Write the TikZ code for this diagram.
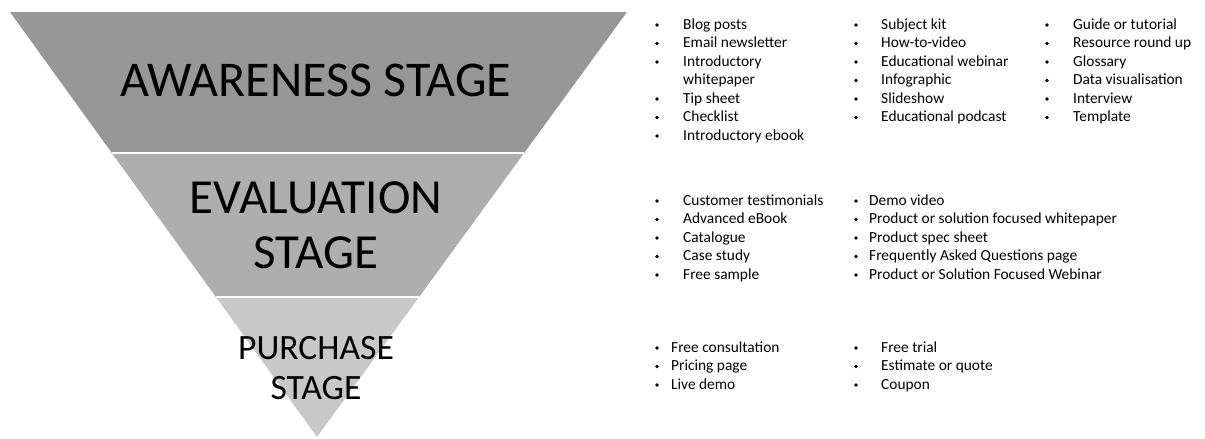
\documentclass[tikz,border=0pt]{standalone}
\usepackage{fontspec}
\setmainfont{Carlito}
\usetikzlibrary{calc}

\definecolor{topband}{RGB}{151,151,151}
\definecolor{midband}{RGB}{174,174,174}
\definecolor{lowband}{RGB}{200,200,200}

\begin{document}
\begin{tikzpicture}[x=1pt,y=-1pt,
    stage/.style={align=center,inner sep=0pt},
    item/.style={anchor=base west,inner sep=0pt,font=\fontsize{15.4}{18}\selectfont},
    dot/.style={circle,fill=black,inner sep=0pt,minimum size=3.8pt}]
\useasboundingbox (0,0) rectangle (1205,439);

% funnel
\coordinate (tl) at (10,12);
\coordinate (tr) at (627,12);
\coordinate (ap) at (317,437);
\coordinate (l1) at ($(tl)!0.3318!(ap)$);
\coordinate (r1) at ($(tr)!0.3318!(ap)$);
\coordinate (l2) at ($(tl)!0.6706!(ap)$);
\coordinate (r2) at ($(tr)!0.6706!(ap)$);
\fill[topband] (tl) -- (tr) -- (r1) -- (l1) -- cycle;
\fill[midband] (l1) -- (r1) -- (r2) -- (l2) -- cycle;
\fill[lowband] (l2) -- (r2) -- (ap) -- cycle;
\draw[white,line width=2pt] (l1) -- (r1);
\draw[white,line width=2pt] (l2) -- (r2);

\node[stage,font=\fontsize{50}{60}\selectfont] (aware) at (316,80) {AWARENESS STAGE};
\node[stage,font=\fontsize{49}{55}\selectfont] (eval) at (316,225) {EVALUATION\\STAGE};
\node[stage,font=\fontsize{35.6}{40}\selectfont] (purch) at (316,368) {PURCHASE\\STAGE};

% awareness lists
\foreach \t [count=\i from 0] in {Blog posts,Email newsletter,Introductory,whitepaper,Tip sheet,Checklist,Introductory ebook}
    \node[item] (a1-\i) at (683,{29+18.5*\i}) {\t};
\foreach \i in {0,1,2,4,5,6}
    \node[dot] (b1-\i) at (657,{25+18.5*\i}) {};
\foreach \t [count=\i from 0] in {Subject kit,How-to-video,Educational webinar,Infographic,Slideshow,Educational podcast} {
    \node[item] (a2-\i) at (881,{29+18.5*\i}) {\t};
    \node[dot] (b2-\i) at (856,{25+18.5*\i}) {};
}
\foreach \t [count=\i from 0] in {Guide or tutorial,Resource round up,Glossary,Data visualisation,Interview,Template} {
    \node[item] (a3-\i) at (1073,{29+18.5*\i}) {\t};
    \node[dot] (b3-\i) at (1047,{25+18.5*\i}) {};
}

% evaluation lists
\foreach \t [count=\i from 0] in {Customer testimonials,Advanced eBook,Catalogue,Case study,Free sample} {
    \node[item] (e1-\i) at (683,{205+18.5*\i}) {\t};
    \node[dot] (c1-\i) at (657,{201+18.5*\i}) {};
}
\foreach \t [count=\i from 0] in {Demo video,Product or solution focused whitepaper,Product spec sheet,Frequently Asked Questions page,Product or Solution Focused Webinar} {
    \node[item] (e2-\i) at (869,{205+18.5*\i}) {\t};
    \node[dot] (c2-\i) at (856,{201+18.5*\i}) {};
}

% purchase lists
\foreach \t [count=\i from 0] in {Free consultation,Pricing page,Live demo} {
    \node[item] (p1-\i) at (671,{352+18.5*\i}) {\t};
    \node[dot] (d1-\i) at (657,{348+18.5*\i}) {};
}
\foreach \t [count=\i from 0] in {Free trial,Estimate or quote,Coupon} {
    \node[item] (p2-\i) at (881,{352+18.5*\i}) {\t};
    \node[dot] (d2-\i) at (856,{348+18.5*\i}) {};
}
\end{tikzpicture}
\end{document}
